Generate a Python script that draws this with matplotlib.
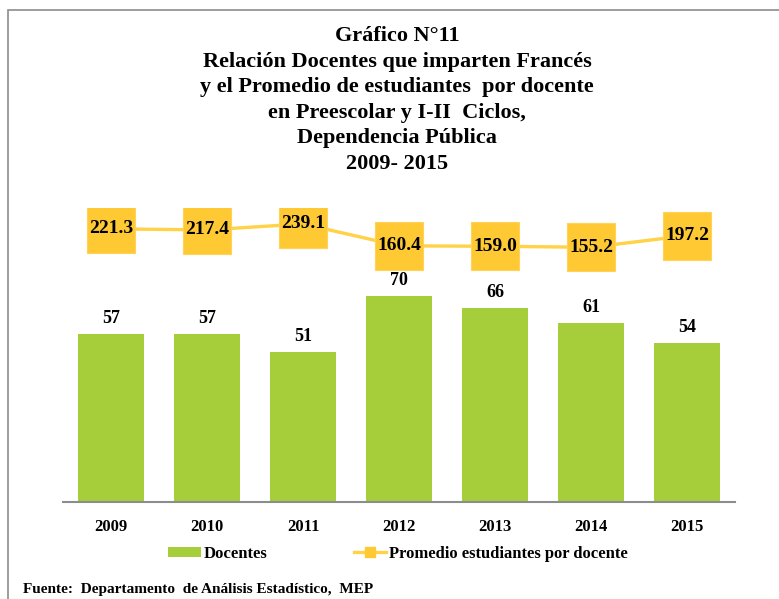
import matplotlib
matplotlib.use("Agg")
import matplotlib.pyplot as plt
from matplotlib.patches import Rectangle, Patch
from matplotlib.lines import Line2D

years = ["2009", "2010", "2011", "2012", "2013", "2014", "2015"]
docentes = [57, 57, 51, 70, 66, 61, 54]
promedio = [221.3, 217.4, 239.1, 160.4, 159.0, 155.2, 197.2]

title_lines = [
    "Gráfico N°11",
    "Relación Docentes que imparten Francés",
    "y el Promedio de estudiantes  por docente",
    "en Preescolar y I-II  Ciclos,",
    "Dependencia Pública",
    "2009- 2015",
]
fuente = "Fuente:  Departamento  de Análisis Estadístico,  MEP"

green = "#A6CD3A"
gold = "#FFC933"
line_col = "#FFD247"

plt.rcParams["font.family"] = ["Liberation Serif", "DejaVu Serif"]
plt.rcParams["font.weight"] = "bold"

W, H = 779, 599
fig = plt.figure(figsize=(W / 100, H / 100), dpi=100)

# frame around the chart
fig.patches.append(Rectangle((8 / W, -0.1), 1.0, 1 - 10 / H + 0.1, transform=fig.transFigure,
                             fill=False, edgecolor="#8C8C8C", linewidth=1.2))

# title, one line at a time
for i, t in enumerate(title_lines):
    fig.text(397 / W, 1 - (41 + i * 25.6) / H, t, ha="center", va="baseline",
             fontsize=16, fontweight="bold")

ax = fig.add_axes([63 / W, 1 - 502 / H, 672 / W, 294 / H])
x = list(range(len(years)))
ax.bar(x, docentes, width=0.69, color=green, zorder=2)
ax.set_ylim(0, 100)
ax.set_xlim(-0.5, len(years) - 0.5)

ax.set_xticks(x)
ax.set_xticklabels(years, fontsize=12, fontweight="bold")
ax.tick_params(axis="x", length=0, pad=12)
ax.set_yticks([])
for s in ["left", "right", "top"]:
    ax.spines[s].set_visible(False)
ax.spines["bottom"].set_color("#8C8C8C")
ax.spines["bottom"].set_linewidth(1.5)

ax2 = ax.twinx()
ax2.set_ylim(-757, 296)
ax2.plot(x, promedio, color=line_col, linewidth=2.4, marker="s", markersize=34.5,
         markerfacecolor=gold, markeredgecolor="#FFD35A", markeredgewidth=0.8, zorder=3)
for xi, v in zip(x, promedio):
    ax2.text(xi, v, f"{v:.1f}", ha="center", va="center", fontsize=14, fontweight="bold", zorder=4)
ax2.set_yticks([])
for s in ["left", "right", "top", "bottom"]:
    ax2.spines[s].set_visible(False)

# bar labels drawn on the top axes so the markers don't hide them
for xi, v in zip(x, docentes):
    ax2.annotate(str(v), xy=(xi, v), xycoords=ax.transData, xytext=(0, 7),
                 textcoords="offset pixels", ha="center", va="bottom",
                 fontsize=13, fontweight="bold", zorder=5)

handles = [
    Patch(facecolor=green, edgecolor="none"),
    Line2D([0], [0], color=line_col, linewidth=2.4, marker="s", markersize=7,
           markerfacecolor=gold, markeredgecolor=gold),
]
fig.legend(handles, ["Docentes", "Promedio estudiantes por docente"], loc="center left",
           bbox_to_anchor=(160 / W, 1 - 554 / H), ncol=2, frameon=False, borderpad=0,
           prop={"size": 12, "weight": "bold"}, handlelength=1.95, handleheight=0.6,
           handletextpad=0.15, columnspacing=5.2)

fig.text(23 / W, 1 - 589 / H, fuente, ha="left", va="center", fontsize=11, fontweight="bold")

fig.savefig("out.png", dpi=100)
